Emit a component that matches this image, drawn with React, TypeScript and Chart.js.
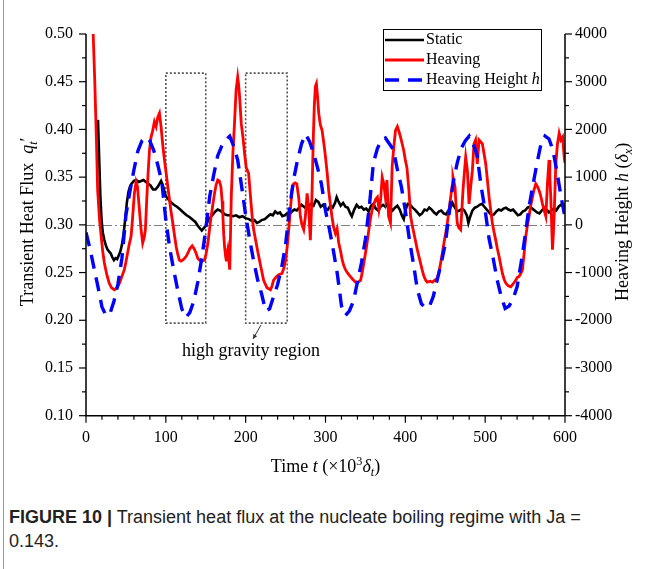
import React, { useEffect, useRef } from 'react';
import { Chart, registerables } from 'chart.js';

Chart.register(...registerables);

// ---------------- DATA ----------------
// Static case: transient heat flux q't vs time t (x10^3 delta_t)
const staticT = [15, 16.5, 18, 19.5, 21, 23, 25, 27, 29, 31, 33, 35, 37, 39, 41, 43, 45, 47, 49, 51, 53, 55, 57, 60, 63, 66, 69, 72, 75, 78, 81, 84, 87, 90, 92, 94, 96, 98, 100, 103, 106, 110, 114, 118, 122, 126, 130, 134, 137, 140, 143, 145, 147, 150, 153, 156, 159, 162, 165, 168, 171, 174, 177, 180, 184, 188, 192, 196, 200, 204, 208, 211, 214, 217, 220, 224, 228, 231, 234, 237, 240, 243, 246, 249, 252, 255, 258, 261, 264, 267, 270, 273, 276, 279, 282, 285, 288, 291, 294, 297, 300, 303, 306, 309, 312, 314, 316, 319, 322, 325, 328, 331, 333, 336, 339, 342, 345, 348, 351, 354, 357, 360, 363, 366, 369, 372, 375, 378, 381, 384, 387, 390, 393, 396, 398, 400, 403, 406, 409, 412, 415, 418, 421, 424, 427, 430, 433, 436, 439, 442, 445, 448, 451, 454, 457, 459, 462, 465, 468, 471, 474, 477, 479, 481, 484, 487, 490, 493, 496, 499, 502, 505, 508, 511, 514, 517, 520, 523, 526, 529, 532, 535, 538, 541, 544, 547, 550, 553, 556, 559, 562, 565, 568, 571, 574, 577, 580, 583, 586, 589, 592, 595, 598, 600];
const staticQ = [0.41, 0.37, 0.33, 0.305, 0.292, 0.284, 0.278, 0.274, 0.272, 0.27, 0.266, 0.263, 0.265, 0.264, 0.268, 0.272, 0.279, 0.29, 0.305, 0.322, 0.334, 0.34, 0.343, 0.346, 0.347, 0.345, 0.346, 0.347, 0.345, 0.343, 0.341, 0.337, 0.337, 0.34, 0.343, 0.346, 0.342, 0.336, 0.33, 0.327, 0.324, 0.321, 0.319, 0.316, 0.313, 0.31, 0.308, 0.305, 0.303, 0.299, 0.296, 0.294, 0.296, 0.299, 0.305, 0.308, 0.311, 0.314, 0.316, 0.315, 0.313, 0.311, 0.31, 0.31, 0.309, 0.31, 0.308, 0.309, 0.307, 0.306, 0.304, 0.305, 0.302, 0.303, 0.305, 0.306, 0.309, 0.311, 0.31, 0.314, 0.312, 0.313, 0.309, 0.31, 0.312, 0.311, 0.314, 0.316, 0.315, 0.318, 0.321, 0.319, 0.317, 0.32, 0.322, 0.32, 0.326, 0.324, 0.319, 0.321, 0.317, 0.316, 0.32, 0.318, 0.323, 0.329, 0.325, 0.32, 0.323, 0.319, 0.318, 0.312, 0.309, 0.316, 0.321, 0.318, 0.319, 0.316, 0.317, 0.314, 0.32, 0.322, 0.317, 0.315, 0.319, 0.321, 0.319, 0.323, 0.318, 0.315, 0.318, 0.32, 0.316, 0.309, 0.306, 0.315, 0.322, 0.321, 0.318, 0.316, 0.313, 0.31, 0.312, 0.316, 0.315, 0.318, 0.316, 0.313, 0.311, 0.314, 0.315, 0.312, 0.311, 0.315, 0.319, 0.323, 0.318, 0.314, 0.315, 0.317, 0.315, 0.31, 0.302, 0.308, 0.315, 0.318, 0.319, 0.321, 0.322, 0.319, 0.316, 0.313, 0.31, 0.311, 0.314, 0.316, 0.315, 0.317, 0.318, 0.316, 0.315, 0.316, 0.313, 0.31, 0.311, 0.314, 0.315, 0.318, 0.319, 0.317, 0.315, 0.313, 0.312, 0.315, 0.318, 0.316, 0.313, 0.315, 0.317, 0.315, 0.319, 0.321, 0.32, 0.322];

// Heaving case: transient heat flux q't vs time
const heavingT = [9, 11, 13, 14.6, 17, 19, 21, 23, 26, 29, 32, 35.5, 39, 42, 45, 48, 50, 52, 54, 56.5, 58.5, 60.6, 62.7, 64.5, 66, 67.5, 69, 71, 73, 74.4, 76, 77.5, 79.5, 81.5, 83.6, 85.7, 87.8, 90, 92, 94, 96, 98, 100, 102.5, 104.6, 106.5, 108.7, 111, 113, 115, 117, 119, 121, 123.5, 125.5, 128, 130, 133, 135.5, 138, 140, 142, 145, 148.5, 150.5, 152.7, 154.7, 156.8, 159, 161, 163, 165, 167, 169, 170.5, 171.5, 172.5, 173.6, 175, 175.7, 176.5, 177.7, 178.8, 180, 181, 182, 184, 186, 188, 190, 191.2, 192.4, 194.5, 196.6, 198.6, 200.7, 203.7, 206, 208, 210, 214, 218, 222.5, 226.7, 231, 233, 235, 239, 242, 245.5, 248, 250, 252, 254, 256, 258, 260, 262, 264, 266.4, 268.5, 270.5, 272.7, 274.8, 277, 279, 281, 283, 284, 285, 286, 287.3, 288.6, 290, 291.5, 293.5, 295.7, 298, 300, 302, 304, 306, 308, 310, 312.4, 314.5, 316.6, 319, 321, 323, 325, 328, 331, 334, 337.5, 341, 344, 346, 348, 350, 352, 354, 356, 358, 360.5, 363, 365, 367, 369, 371, 373, 375, 377, 379, 381.4, 383.5, 385.6, 387.7, 390, 392, 394, 396, 398, 400, 402, 404.5, 406.6, 408.5, 410.8, 413, 415, 417, 419, 421, 423.3, 425.5, 427.5, 431, 433.8, 437, 440, 442, 444.2, 446.3, 448.4, 450.5, 452.6, 454.7, 456.8, 458.5, 459.7, 462.2, 463.5, 465, 467, 469.3, 470.8, 472.2, 474, 475.6, 477.7, 479.8, 481.9, 484, 486, 488, 490.2, 492.3, 494.5, 496.5, 498.5, 500.7, 502.8, 504.9, 507, 509, 511, 513.2, 515.3, 517.4, 519.5, 521.6, 523.7, 525.8, 529, 532, 535, 538.3, 540.4, 542.5, 544.6, 546.7, 548.8, 550.9, 553, 555, 557, 559.2, 561.3, 563.4, 565.5, 567.6, 569.7, 571.8, 574, 576, 578, 580, 581, 582.2, 583.3, 584.3, 585.4, 586.4, 588.5, 590.6, 592.7, 594.8, 597, 599, 600];
const heavingQ = [0.5, 0.45, 0.39, 0.336, 0.305, 0.288, 0.272, 0.26, 0.248, 0.239, 0.234, 0.232, 0.234, 0.239, 0.246, 0.253, 0.261, 0.27, 0.279, 0.288, 0.309, 0.333, 0.345, 0.34, 0.325, 0.31, 0.295, 0.281, 0.287, 0.295, 0.325, 0.35, 0.378, 0.392, 0.399, 0.408, 0.403, 0.413, 0.417, 0.403, 0.385, 0.37, 0.357, 0.34, 0.326, 0.314, 0.302, 0.288, 0.277, 0.269, 0.263, 0.262, 0.263, 0.265, 0.267, 0.271, 0.275, 0.278, 0.275, 0.27, 0.265, 0.263, 0.262, 0.263, 0.27, 0.281, 0.295, 0.309, 0.322, 0.333, 0.342, 0.347, 0.346, 0.34, 0.325, 0.309, 0.29, 0.277, 0.266, 0.263, 0.268, 0.274, 0.265, 0.253, 0.29, 0.33, 0.375, 0.406, 0.441, 0.455, 0.447, 0.434, 0.406, 0.392, 0.375, 0.36, 0.354, 0.33, 0.31, 0.295, 0.277, 0.26, 0.242, 0.234, 0.232, 0.236, 0.242, 0.246, 0.248, 0.249, 0.255, 0.263, 0.277, 0.295, 0.316, 0.336, 0.343, 0.344, 0.343, 0.329, 0.309, 0.3, 0.295, 0.309, 0.333, 0.316, 0.284, 0.329, 0.365, 0.399, 0.425, 0.445, 0.448, 0.435, 0.417, 0.405, 0.399, 0.385, 0.371, 0.355, 0.336, 0.322, 0.309, 0.298, 0.291, 0.296, 0.281, 0.272, 0.263, 0.257, 0.253, 0.249, 0.246, 0.243, 0.24, 0.24, 0.242, 0.25, 0.26, 0.27, 0.281, 0.293, 0.305, 0.314, 0.322, 0.327, 0.329, 0.316, 0.326, 0.35, 0.343, 0.329, 0.347, 0.309, 0.302, 0.361, 0.382, 0.399, 0.403, 0.398, 0.392, 0.385, 0.378, 0.368, 0.36, 0.336, 0.309, 0.3, 0.291, 0.282, 0.274, 0.267, 0.26, 0.253, 0.246, 0.242, 0.24, 0.241, 0.24, 0.242, 0.244, 0.25, 0.26, 0.27, 0.281, 0.291, 0.302, 0.315, 0.329, 0.34, 0.35, 0.34, 0.32, 0.302, 0.297, 0.295, 0.315, 0.336, 0.355, 0.371, 0.357, 0.322, 0.34, 0.357, 0.385, 0.389, 0.364, 0.389, 0.387, 0.385, 0.375, 0.364, 0.347, 0.329, 0.315, 0.302, 0.293, 0.284, 0.275, 0.267, 0.258, 0.249, 0.243, 0.239, 0.236, 0.235, 0.238, 0.242, 0.245, 0.246, 0.249, 0.253, 0.27, 0.288, 0.3, 0.309, 0.32, 0.329, 0.337, 0.343, 0.34, 0.336, 0.33, 0.322, 0.315, 0.309, 0.343, 0.368, 0.35, 0.329, 0.3, 0.274, 0.29, 0.309, 0.364, 0.385, 0.396, 0.389, 0.392, 0.371, 0.365];

// Heaving height h (delta_x) vs time, right axis
const heightT = [0, 5, 10, 15, 20, 25, 30, 35, 40, 45, 50, 55, 60, 65, 70, 75, 80, 85, 90, 95, 100, 105, 110, 115, 120, 125, 130, 135, 140, 145, 150, 155, 160, 165, 170, 175, 180, 185, 190, 195, 200, 205, 210, 215, 220, 225, 230, 235, 240, 245, 250, 255, 260, 265, 270, 275, 280, 285, 290, 295, 300, 305, 310, 315, 320, 325, 330, 335, 340, 345, 350, 355, 360, 365, 370, 375, 380, 385, 390, 395, 400, 405, 410, 415, 420, 425, 430, 435, 440, 445, 450, 455, 460, 465, 470, 475, 480, 485, 490, 495, 500, 505, 510, 515, 520, 525, 530, 535, 540, 545, 550, 555, 560, 565, 570, 575, 580, 585, 590, 595, 600];
const heightH = [-160, -500, -900, -1300, -1720, -1900, -1860, -1600, -1240, -700, 200, 700, 1150, 1550, 1760, 1840, 1760, 1550, 1250, 900, 100, -500, -960, -1380, -1760, -1940, -1840, -1600, -1200, -700, -100, 600, 1050, 1450, 1650, 1780, 1860, 1650, 1360, 800, 200, -300, -760, -1150, -1450, -1800, -1760, -1500, -1250, -900, -420, 350, 950, 1360, 1700, 1900, 1750, 1500, 1200, 850, 300, -100, -550, -1050, -1700, -1900, -1800, -1600, -1200, -800, -300, 400, 1300, 1600, 1780, 1820, 1700, 1580, 1160, 800, 300, -300, -800, -1350, -1650, -1740, -1720, -1500, -1150, -800, -400, 250, 900, 1300, 1600, 1760, 1860, 1700, 1450, 800, 300, -300, -700, -1150, -1500, -1750, -1700, -1550, -1300, -800, -240, 380, 850, 1300, 1700, 1860, 1800, 1560, 1100, 600, 150];

const seriesLabels = ['Static', 'Heaving', 'Heaving Height '];
const seriesColors = ['#000000', '#ff0000', '#0000ff'];

const xTicks = { min: 0, max: 600, step: 100, minor: 20 };
const yTicks = { min: 0.1, max: 0.5, step: 0.05, minor: 0.025 };
const y1Ticks = { min: -4000, max: 4000, step: 1000, minor: 500 };

const referenceLevel = 0.3; // dash-dot line
const regionStarts = [100, 200];
const regionEnds = [150, 252];
const regionBottom = 0.197;
const regionTop = 0.459;
const regionLabel = 'high gravity region';

// ---------------- DRAWING HELPERS ----------------
const SERIF = "'Liberation Serif', 'Times New Roman', Times, serif";
const fnt = (size: number, italic = false) => `${italic ? 'italic ' : ''}${size}px ${SERIF}`;

type Part = { t: string; i?: boolean; sub?: boolean; sup?: boolean };

function richWidth(ctx: CanvasRenderingContext2D, parts: Part[], size: number) {
  let w = 0;
  for (const p of parts) {
    const fs = p.sub || p.sup ? size * 0.68 : size;
    ctx.font = fnt(fs, p.i);
    w += ctx.measureText(p.t).width;
  }
  return w;
}

function drawRich(ctx: CanvasRenderingContext2D, parts: Part[], x: number, y: number, size: number, rot = 0, align: 'center' | 'left' = 'center') {
  ctx.save();
  ctx.translate(x, y);
  ctx.rotate(rot);
  const w = richWidth(ctx, parts, size);
  let cx = align === 'center' ? -w / 2 : 0;
  ctx.textAlign = 'left';
  ctx.textBaseline = 'alphabetic';
  ctx.fillStyle = '#000';
  for (const p of parts) {
    const fs = p.sub || p.sup ? size * 0.68 : size;
    ctx.font = fnt(fs, p.i);
    const dy = p.sub ? size * 0.22 : p.sup ? -size * 0.36 : 0;
    ctx.fillText(p.t, cx, dy + size * 0.33);
    cx += ctx.measureText(p.t).width;
  }
  ctx.restore();
}

function rangeSteps(min: number, max: number, step: number) {
  const out: number[] = [];
  const n = Math.round((max - min) / step);
  for (let k = 0; k <= n; k++) out.push(min + k * step);
  return out;
}

const decorPlugin = {
  id: 'decor',
  beforeDatasetsDraw(chart: any) {
    const { ctx, chartArea } = chart;
    const x = chart.scales.x;
    const y = chart.scales.y;
    ctx.save();
    // dash-dot reference line
    ctx.strokeStyle = '#808080';
    ctx.lineWidth = 1;
    ctx.setLineDash([9, 3, 2, 3]);
    const yy = Math.round(y.getPixelForValue(referenceLevel)) + 0.5;
    ctx.beginPath();
    ctx.moveTo(chartArea.left, yy);
    ctx.lineTo(chartArea.right, yy);
    ctx.stroke();
    // dotted regions
    ctx.strokeStyle = '#555555';
    ctx.lineWidth = 1.6;
    ctx.setLineDash([2, 2]);
    for (let k = 0; k < regionStarts.length; k++) {
      const x0 = x.getPixelForValue(regionStarts[k]);
      const x1 = x.getPixelForValue(regionEnds[k]);
      const y0 = y.getPixelForValue(regionTop);
      const y1 = y.getPixelForValue(regionBottom);
      ctx.strokeRect(x0, y0, x1 - x0, y1 - y0);
    }
    ctx.restore();
  },
  afterDraw(chart: any) {
    const { ctx, chartArea } = chart;
    const x = chart.scales.x;
    const y = chart.scales.y;
    const y1 = chart.scales.y1;
    const L = chartArea.left, R = chartArea.right, T = chartArea.top, B = chartArea.bottom;
    ctx.save();
    ctx.setLineDash([]);
    ctx.strokeStyle = '#000';
    ctx.lineWidth = 1.5;
    // axis lines
    ctx.beginPath();
    ctx.moveTo(L, T); ctx.lineTo(L, B); ctx.lineTo(R, B); ctx.moveTo(R, T); ctx.lineTo(R, B);
    ctx.stroke();
    ctx.lineWidth = 1.2;
    // left ticks
    rangeSteps(yTicks.min, yTicks.max, yTicks.minor).forEach((v, k) => {
      const p = y.getPixelForValue(v);
      const len = k % 2 === 0 ? 7 : 4;
      ctx.beginPath(); ctx.moveTo(L, p); ctx.lineTo(L - len, p); ctx.stroke();
    });
    // right ticks
    rangeSteps(y1Ticks.min, y1Ticks.max, y1Ticks.minor).forEach((v, k) => {
      const p = y1.getPixelForValue(v);
      const len = k % 2 === 0 ? 7 : 4;
      ctx.beginPath(); ctx.moveTo(R, p); ctx.lineTo(R + len, p); ctx.stroke();
    });
    // bottom ticks
    rangeSteps(xTicks.min, xTicks.max, xTicks.minor).forEach((v, k) => {
      const p = x.getPixelForValue(v);
      const len = k % 5 === 0 ? 7 : 4;
      ctx.beginPath(); ctx.moveTo(p, B); ctx.lineTo(p, B + len); ctx.stroke();
    });

    // axis titles
    drawRich(ctx, [{ t: 'Transient Heat Flux  ' }, { t: 'q', i: true }, { t: 't', i: true, sub: true }, { t: '\u2032' }], 27, (T + B) / 2 - 3, 18, -Math.PI / 2);
    drawRich(ctx, [{ t: 'Heaving Height ' }, { t: 'h', i: true }, { t: ' (' }, { t: '\u03b4', i: true }, { t: 'x', i: true, sub: true }, { t: ')' }], 622, (T + B) / 2 - 3, 18, -Math.PI / 2);
    drawRich(ctx, [{ t: 'Time ' }, { t: 't', i: true }, { t: ' (\u00d710' }, { t: '3', sup: true }, { t: '\u03b4', i: true }, { t: 't', i: true, sub: true }, { t: ')' }], (L + R) / 2, 466, 18, 0);

    // legend
    const lx = 383, ly = 29, lw = 158, lh = 61;
    ctx.fillStyle = '#fff';
    ctx.fillRect(lx, ly, lw, lh);
    ctx.lineWidth = 1;
    ctx.strokeStyle = '#000';
    ctx.strokeRect(lx + 0.5, ly + 0.5, lw, lh);
    chart.data.datasets.forEach((ds: any, k: number) => {
      const ry = ly + 11 + k * 20;
      ctx.save();
      ctx.strokeStyle = ds.borderColor;
      ctx.lineWidth = ds.borderWidth;
      ctx.setLineDash(ds.borderDash || []);
      ctx.beginPath(); ctx.moveTo(lx + 2, ry); ctx.lineTo(lx + 41, ry); ctx.stroke();
      ctx.restore();
      const parts: Part[] = [{ t: ds.label }];
      if (k === 2) parts.push({ t: 'h', i: true });
      drawRich(ctx, parts, lx + 43, ry - 1, 16, 0, 'left');
    });

    // annotation
    ctx.fillStyle = '#000';
    ctx.font = fnt(18);
    ctx.textAlign = 'left';
    ctx.textBaseline = 'alphabetic';
    ctx.fillText(regionLabel, 182, 356);
    ctx.strokeStyle = '#333';
    ctx.lineWidth = 1;
    const ax0 = 261, ay0 = 325, ax1 = 253, ay1 = 339;
    ctx.beginPath(); ctx.moveTo(ax0, ay0); ctx.lineTo(ax1, ay1); ctx.stroke();
    const ang = Math.atan2(ay1 - ay0, ax1 - ax0);
    ctx.beginPath();
    ctx.moveTo(ax1, ay1);
    ctx.lineTo(ax1 - 5 * Math.cos(ang - 0.45), ay1 - 5 * Math.sin(ang - 0.45));
    ctx.lineTo(ax1 - 5 * Math.cos(ang + 0.45), ay1 - 5 * Math.sin(ang + 0.45));
    ctx.closePath();
    ctx.fillStyle = '#333';
    ctx.fill();
    ctx.restore();
  },
};

const toPts = (xs: number[], ys: number[]) => xs.map((t, k) => ({ x: t, y: ys[k] }));

export default function App() {
  const ref = useRef<HTMLCanvasElement | null>(null);
  useEffect(() => {
    if (!ref.current) return;
    Chart.defaults.font.family = SERIF;
    const tickFont = { family: SERIF, size: 16, style: 'normal' as const };
    const chart = new Chart(ref.current, {
      type: 'line',
      data: {
        datasets: [
          { label: seriesLabels[0], data: toPts(staticT, staticQ), borderColor: seriesColors[0], borderWidth: 2.6, yAxisID: 'y', order: 2, pointRadius: 0 },
          { label: seriesLabels[1], data: toPts(heavingT, heavingQ), borderColor: seriesColors[1], borderWidth: 2.8, yAxisID: 'y', order: 1, pointRadius: 0 },
          { label: seriesLabels[2], data: toPts(heightT, heightH), borderColor: seriesColors[2], borderWidth: 3.4, borderDash: [14, 9], yAxisID: 'y1', order: 0, pointRadius: 0 },
        ],
      },
      options: {
        responsive: false,
        animation: false,
        devicePixelRatio: 1,
        font: { family: SERIF },
        layout: { padding: { top: 34, left: 0, right: 0, bottom: 0 } },
        plugins: { legend: { display: false }, tooltip: { enabled: false } },
        elements: { line: { tension: 0 } },
        scales: {
          x: {
            type: 'linear', position: 'bottom', min: xTicks.min, max: xTicks.max,
            grid: { display: false, drawTicks: false }, border: { display: false },
            ticks: { stepSize: xTicks.step, font: tickFont, color: '#000', padding: 12, maxRotation: 0 },
            afterFit: (s: any) => { s.height = 74.3; },
          },
          y: {
            type: 'linear', position: 'left', min: yTicks.min, max: yTicks.max,
            grid: { display: false, drawTicks: false }, border: { display: false },
            ticks: { stepSize: yTicks.step, font: tickFont, color: '#000', padding: 13, callback: (v: any) => Number(v).toFixed(2) },
            afterFit: (s: any) => { s.width = 86; },
          },
          y1: {
            type: 'linear', position: 'right', min: y1Ticks.min, max: y1Ticks.max,
            grid: { display: false, drawTicks: false }, border: { display: false },
            ticks: { stepSize: y1Ticks.step, font: tickFont, color: '#000', padding: 10, callback: (v: any) => String(Math.round(Number(v))) },
            afterFit: (s: any) => { s.width = 82; },
          },
        },
      },
      plugins: [decorPlugin],
    } as any);
    return () => chart.destroy();
  }, []);

  return (
    <div style={{ position: 'absolute', left: 0, top: 0, width: 647, height: 569, background: '#fff', overflow: 'hidden' }}>
      <div style={{ position: 'absolute', left: 3, top: 0, width: 0, height: 569, borderLeft: '1px solid #9a9a9a' }} />
      <canvas ref={ref} width={647} height={490} style={{ position: 'absolute', left: 0, top: 0, width: 647, height: 490 }} />
      <div style={{ position: 'absolute', left: 9, top: 505, width: 580, fontFamily: '"Liberation Sans Narrow", "Liberation Sans", Arial, sans-serif', fontSize: 18, lineHeight: '24px', color: '#222' }}>
        <b>FIGURE 10 |</b> Transient heat flux at the nucleate boiling regime with Ja = 0.143.
      </div>
    </div>
  );
}
